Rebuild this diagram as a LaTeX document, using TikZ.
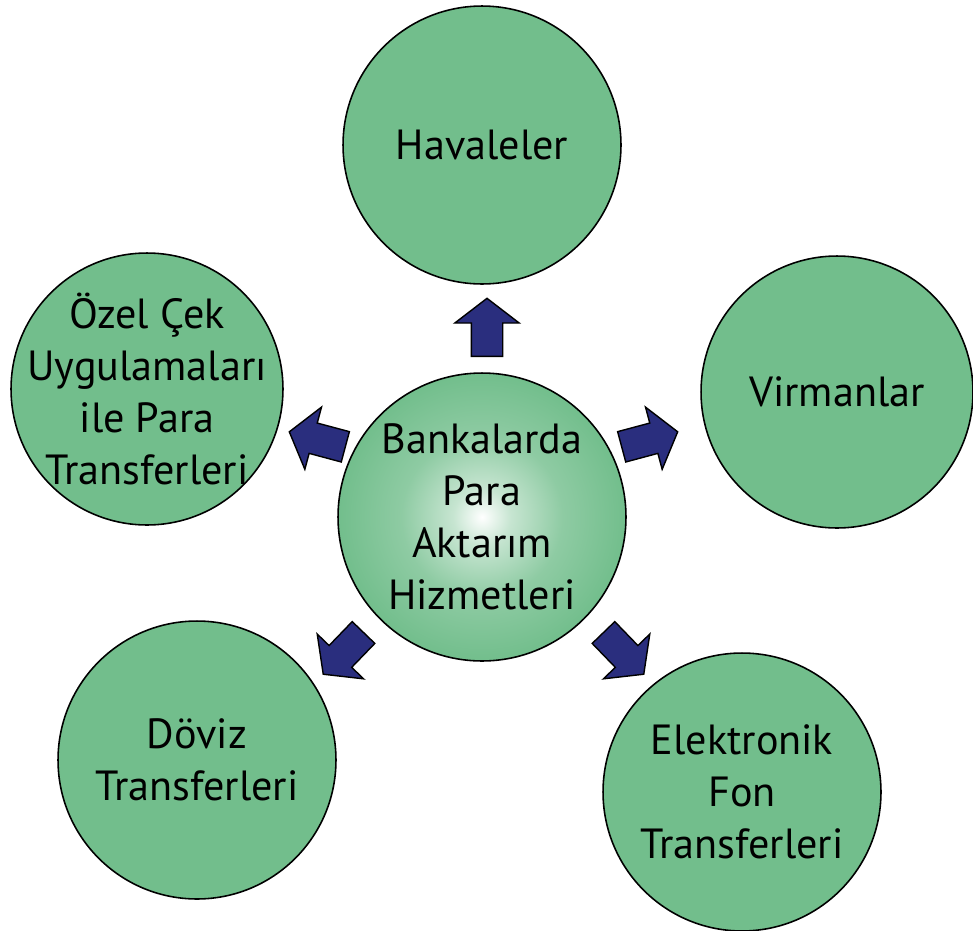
\documentclass[tikz,border=0pt]{standalone}
\usepackage{fontspec}
\setmainfont{PT Sans}
\usetikzlibrary{shapes.arrows}

\definecolor{leafgreen}{RGB}{114,190,140}
\definecolor{arrownavy}{RGB}{42,46,126}
\pgfdeclareradialshading{hubglow}{\pgfpoint{0bp}{0bp}}{%
  color(0bp)=(white); color(5bp)=(leafgreen!40); color(14bp)=(leafgreen!80);
  color(25bp)=(leafgreen); color(50bp)=(leafgreen)}

\begin{document}
\begin{tikzpicture}[
        x=0.02cm, y=-0.02cm,
        bubble/.style={circle, draw=black, line width=0.9pt, fill=leafgreen, minimum size=5.56cm, inner sep=-2cm, align=center, font=\fontsize{24}{29.5}\selectfont},
        hub/.style={bubble, shading=hubglow, minimum size=5.76cm},
        blockarrow/.style={single arrow, draw=black, line width=0.8pt, fill=arrownavy, minimum height=1.16cm, inner xsep=0pt, inner ysep=0.3cm, single arrow head extend=0.33cm, single arrow tip angle=105, anchor=tail}
    ]
    \useasboundingbox (0,0) rectangle (973,930);

    % hub and the five services
    \node[hub] (hizmet) at (482,517) {Bankalarda\\Para\\Aktarım\\Hizmetleri};
    \node[bubble] (havale) at (482,145) {Havaleler};
    \node[bubble, minimum size=5.44cm] (virman) at (837,392) {Virmanlar};
    \node[bubble, minimum size=5.44cm] (ozelcek) at (147,389) {Özel Çek\\Uygulamaları\\ile Para\\Transferleri};
    \node[bubble] (doviz) at (197,760) {Döviz\\Transferleri};
    \node[bubble] (elektronik) at (742,792) {Elektronik\\Fon\\Transferleri};

    % block arrows out of the hub (placed by their tails)
    \node[blockarrow, rotate=90] (ok1) at (487,357) {};
    \node[blockarrow, rotate=15] (ok2) at (621,447) {};
    \node[blockarrow, rotate=165] (ok3) at (346,447) {};
    \node[blockarrow, rotate=226] (ok4) at (364,632) {};
    \node[blockarrow, rotate=-46] (ok5) at (603,632) {};
\end{tikzpicture}
\end{document}
